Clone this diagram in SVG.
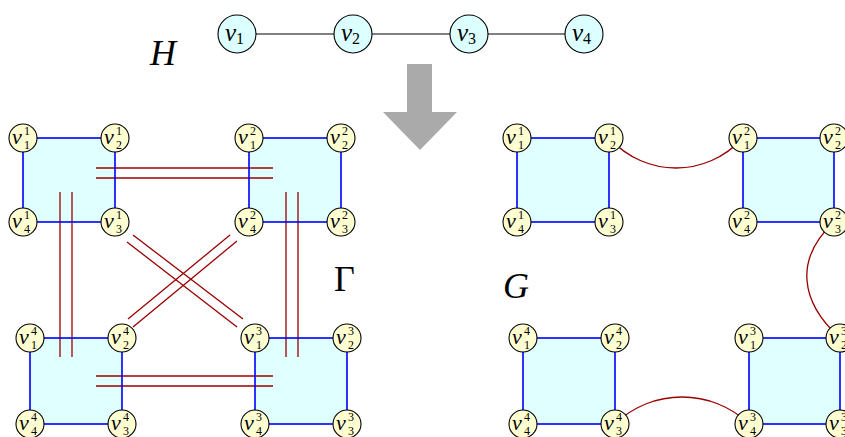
<svg xmlns="http://www.w3.org/2000/svg" width="845" height="437" viewBox="0 0 845 437">
<defs>
<style>
.blk{fill:#e0ffff;stroke:none}
.be{stroke:#0000ff;stroke-width:1.6;fill:none}
.re{stroke:#990000;stroke-width:1.3;fill:none}
.he{stroke:#000;stroke-width:1;fill:none}
.n{fill:#ffffd2;stroke:#000;stroke-width:1.1}
.hn{fill:#dcffff;stroke:#000;stroke-width:1.1}
.v{font-family:"Liberation Serif",serif;font-style:italic;font-size:22px;fill:#000}
.s{font-family:"Liberation Serif",serif;font-style:normal;font-size:12px;fill:#000}
.hv{font-family:"Liberation Serif",serif;font-style:italic;font-size:25px;fill:#000}
.hs{font-family:"Liberation Serif",serif;font-style:normal;font-size:16px;fill:#000}
.big{font-family:"Liberation Serif",serif;font-size:36px;fill:#000}
</style>
</defs>
<rect width="845" height="437" fill="#fff"/>

<!-- H -->
<text class="big" x="150" y="65" font-style="italic">H</text>
<g id="h-edges">
<line class="he" x1="237" y1="34" x2="584" y2="34"/>
</g>
<g id="h-v1"><circle class="hn" cx="237" cy="34" r="19"/><text class="hv" x="225" y="41">v<tspan class="hs" dy="3">1</tspan></text></g>
<g id="h-v2"><circle class="hn" cx="353" cy="34" r="19"/><text class="hv" x="341" y="41">v<tspan class="hs" dy="3">2</tspan></text></g>
<g id="h-v3"><circle class="hn" cx="469" cy="34" r="19"/><text class="hv" x="457" y="41">v<tspan class="hs" dy="3">3</tspan></text></g>
<g id="h-v4"><circle class="hn" cx="584" cy="34" r="19"/><text class="hv" x="572" y="41">v<tspan class="hs" dy="3">4</tspan></text></g>

<!-- arrow -->
<g id="arrow"><polygon points="407,64 432,64 432,112 457,112 420,150 383,112 407,112" fill="#aaaaaa"/></g>

<text class="big" x="334" y="291">Γ</text>
<text class="big" x="503" y="298" font-style="italic">G</text>

<!-- block fills -->
<g id="fills">
<rect class="blk" x="23" y="138" width="92" height="84"/>
<rect class="blk" x="249" y="138" width="92" height="84"/>
<rect class="blk" x="255" y="338" width="92" height="86"/>
<rect class="blk" x="30" y="338" width="92" height="86"/>
<rect class="blk" x="517" y="138" width="92" height="84"/>
<rect class="blk" x="743" y="138" width="91" height="84"/>
<rect class="blk" x="749" y="338" width="91" height="86"/>
<rect class="blk" x="523" y="338" width="92" height="86"/>
</g>

<g id="connectors">
<line class="re" x1="96" y1="168" x2="273" y2="168"/>
<line class="re" x1="96" y1="178" x2="273" y2="178"/>
<line class="re" x1="96" y1="376" x2="273" y2="376"/>
<line class="re" x1="96" y1="386" x2="273" y2="386"/>
<line class="re" x1="60" y1="192" x2="60" y2="357"/>
<line class="re" x1="72" y1="192" x2="72" y2="357"/>
<line class="re" x1="286" y1="192" x2="286" y2="357"/>
<line class="re" x1="298" y1="192" x2="298" y2="357"/>
<line class="re" x1="133" y1="235" x2="243" y2="319"/>
<line class="re" x1="127" y1="242" x2="237" y2="327"/>
<line class="re" x1="230" y1="235" x2="128" y2="319"/>
<line class="re" x1="237" y1="241" x2="133" y2="327"/>
<path class="re" d="M609,138 C646,178 706,178 743,138"/>
<path class="re" d="M834,222 C794,259 800,302 840,338"/>
<path class="re" d="M615,424 C652,388 712,388 749,424"/>
<rect class="be" x="23" y="138" width="92" height="84"/>
<rect class="be" x="249" y="138" width="92" height="84"/>
<rect class="be" x="255" y="338" width="92" height="86"/>
<rect class="be" x="30" y="338" width="92" height="86"/>
<rect class="be" x="517" y="138" width="92" height="84"/>
<rect class="be" x="743" y="138" width="91" height="84"/>
<rect class="be" x="749" y="338" width="91" height="86"/>
<rect class="be" x="523" y="338" width="92" height="86"/>
</g>

<g id="g1-v1"><circle class="n" cx="23" cy="138" r="14"/><text class="v" x="12" y="144">v<tspan class="s" x="24" y="135">1</tspan><tspan class="s" x="24" y="149">1</tspan></text></g>
<g id="g1-v2"><circle class="n" cx="115" cy="138" r="14"/><text class="v" x="104" y="144">v<tspan class="s" x="116" y="135">1</tspan><tspan class="s" x="116" y="149">2</tspan></text></g>
<g id="g1-v3"><circle class="n" cx="115" cy="222" r="14"/><text class="v" x="104" y="228">v<tspan class="s" x="116" y="219">1</tspan><tspan class="s" x="116" y="233">3</tspan></text></g>
<g id="g1-v4"><circle class="n" cx="23" cy="222" r="14"/><text class="v" x="12" y="228">v<tspan class="s" x="24" y="219">1</tspan><tspan class="s" x="24" y="233">4</tspan></text></g>

<g id="g2-v1"><circle class="n" cx="249" cy="138" r="14"/><text class="v" x="238" y="144">v<tspan class="s" x="250" y="135">2</tspan><tspan class="s" x="250" y="149">1</tspan></text></g>
<g id="g2-v2"><circle class="n" cx="341" cy="138" r="14"/><text class="v" x="330" y="144">v<tspan class="s" x="342" y="135">2</tspan><tspan class="s" x="342" y="149">2</tspan></text></g>
<g id="g2-v3"><circle class="n" cx="341" cy="222" r="14"/><text class="v" x="330" y="228">v<tspan class="s" x="342" y="219">2</tspan><tspan class="s" x="342" y="233">3</tspan></text></g>
<g id="g2-v4"><circle class="n" cx="249" cy="222" r="14"/><text class="v" x="238" y="228">v<tspan class="s" x="250" y="219">2</tspan><tspan class="s" x="250" y="233">4</tspan></text></g>

<g id="g3-v1"><circle class="n" cx="255" cy="338" r="14"/><text class="v" x="244" y="344">v<tspan class="s" x="256" y="335">3</tspan><tspan class="s" x="256" y="349">1</tspan></text></g>
<g id="g3-v2"><circle class="n" cx="347" cy="338" r="14"/><text class="v" x="336" y="344">v<tspan class="s" x="348" y="335">3</tspan><tspan class="s" x="348" y="349">2</tspan></text></g>
<g id="g3-v3"><circle class="n" cx="347" cy="424" r="14"/><text class="v" x="336" y="430">v<tspan class="s" x="348" y="421">3</tspan><tspan class="s" x="348" y="435">3</tspan></text></g>
<g id="g3-v4"><circle class="n" cx="255" cy="424" r="14"/><text class="v" x="244" y="430">v<tspan class="s" x="256" y="421">3</tspan><tspan class="s" x="256" y="435">4</tspan></text></g>

<g id="g4-v1"><circle class="n" cx="30" cy="338" r="14"/><text class="v" x="19" y="344">v<tspan class="s" x="31" y="335">4</tspan><tspan class="s" x="31" y="349">1</tspan></text></g>
<g id="g4-v2"><circle class="n" cx="122" cy="338" r="14"/><text class="v" x="111" y="344">v<tspan class="s" x="123" y="335">4</tspan><tspan class="s" x="123" y="349">2</tspan></text></g>
<g id="g4-v3"><circle class="n" cx="122" cy="424" r="14"/><text class="v" x="111" y="430">v<tspan class="s" x="123" y="421">4</tspan><tspan class="s" x="123" y="435">3</tspan></text></g>
<g id="g4-v4"><circle class="n" cx="30" cy="424" r="14"/><text class="v" x="19" y="430">v<tspan class="s" x="31" y="421">4</tspan><tspan class="s" x="31" y="435">4</tspan></text></g>

<g id="G1-v1"><circle class="n" cx="517" cy="138" r="14"/><text class="v" x="506" y="144">v<tspan class="s" x="518" y="135">1</tspan><tspan class="s" x="518" y="149">1</tspan></text></g>
<g id="G1-v2"><circle class="n" cx="609" cy="138" r="14"/><text class="v" x="598" y="144">v<tspan class="s" x="610" y="135">1</tspan><tspan class="s" x="610" y="149">2</tspan></text></g>
<g id="G1-v3"><circle class="n" cx="609" cy="222" r="14"/><text class="v" x="598" y="228">v<tspan class="s" x="610" y="219">1</tspan><tspan class="s" x="610" y="233">3</tspan></text></g>
<g id="G1-v4"><circle class="n" cx="517" cy="222" r="14"/><text class="v" x="506" y="228">v<tspan class="s" x="518" y="219">1</tspan><tspan class="s" x="518" y="233">4</tspan></text></g>

<g id="G2-v1"><circle class="n" cx="743" cy="138" r="14"/><text class="v" x="732" y="144">v<tspan class="s" x="744" y="135">2</tspan><tspan class="s" x="744" y="149">1</tspan></text></g>
<g id="G2-v2"><circle class="n" cx="834" cy="138" r="14"/><text class="v" x="823" y="144">v<tspan class="s" x="835" y="135">2</tspan><tspan class="s" x="835" y="149">2</tspan></text></g>
<g id="G2-v3"><circle class="n" cx="834" cy="222" r="14"/><text class="v" x="823" y="228">v<tspan class="s" x="835" y="219">2</tspan><tspan class="s" x="835" y="233">3</tspan></text></g>
<g id="G2-v4"><circle class="n" cx="743" cy="222" r="14"/><text class="v" x="732" y="228">v<tspan class="s" x="744" y="219">2</tspan><tspan class="s" x="744" y="233">4</tspan></text></g>

<g id="G3-v1"><circle class="n" cx="749" cy="338" r="14"/><text class="v" x="738" y="344">v<tspan class="s" x="750" y="335">3</tspan><tspan class="s" x="750" y="349">1</tspan></text></g>
<g id="G3-v2"><circle class="n" cx="840" cy="338" r="14"/><text class="v" x="829" y="344">v<tspan class="s" x="841" y="335">3</tspan><tspan class="s" x="841" y="349">2</tspan></text></g>
<g id="G3-v3"><circle class="n" cx="840" cy="424" r="14"/><text class="v" x="829" y="430">v<tspan class="s" x="841" y="421">3</tspan><tspan class="s" x="841" y="435">3</tspan></text></g>
<g id="G3-v4"><circle class="n" cx="749" cy="424" r="14"/><text class="v" x="738" y="430">v<tspan class="s" x="750" y="421">3</tspan><tspan class="s" x="750" y="435">4</tspan></text></g>

<g id="G4-v1"><circle class="n" cx="523" cy="338" r="14"/><text class="v" x="512" y="344">v<tspan class="s" x="524" y="335">4</tspan><tspan class="s" x="524" y="349">1</tspan></text></g>
<g id="G4-v2"><circle class="n" cx="615" cy="338" r="14"/><text class="v" x="604" y="344">v<tspan class="s" x="616" y="335">4</tspan><tspan class="s" x="616" y="349">2</tspan></text></g>
<g id="G4-v3"><circle class="n" cx="615" cy="424" r="14"/><text class="v" x="604" y="430">v<tspan class="s" x="616" y="421">4</tspan><tspan class="s" x="616" y="435">3</tspan></text></g>
<g id="G4-v4"><circle class="n" cx="523" cy="424" r="14"/><text class="v" x="512" y="430">v<tspan class="s" x="524" y="421">4</tspan><tspan class="s" x="524" y="435">4</tspan></text></g>
</svg>
